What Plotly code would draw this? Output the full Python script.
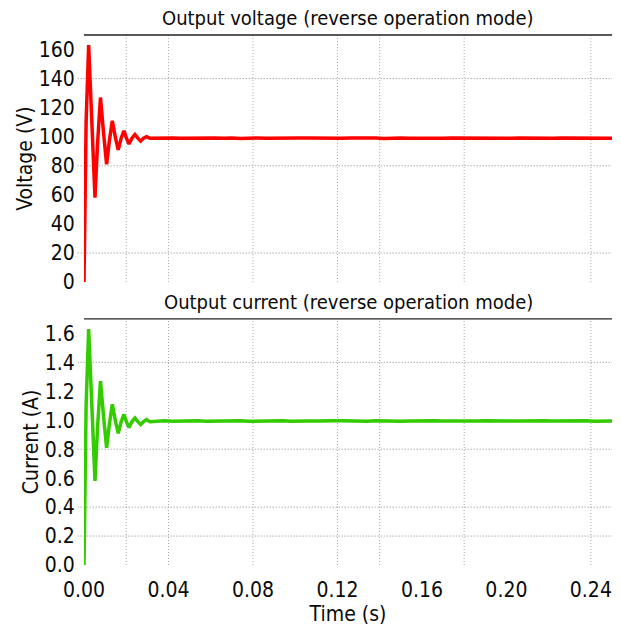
import plotly.graph_objects as go

# ---------------- data ----------------
t_osc = [0.0000, 0.0010, 0.0022, 0.0037, 0.0052, 0.0064, 0.0078, 0.0093, 0.0107, 0.0120,
         0.0134, 0.0148, 0.0162, 0.0176, 0.0189, 0.0201, 0.0213, 0.0227, 0.0241, 0.0255,
         0.0268, 0.0282, 0.0296, 0.0312]
v_osc = [0, 110, 163, 105, 58, 95, 127, 102, 81, 97,
         111, 100, 91, 99, 104, 99, 95, 99, 101.5, 99,
         97, 99, 100, 99]
i_osc = [0.0, 1.10, 1.63, 1.05, 0.58, 0.95, 1.27, 1.02, 0.81, 0.97,
         1.11, 1.00, 0.91, 0.99, 1.04, 0.99, 0.95, 0.99, 1.015, 0.99,
         0.97, 0.99, 1.005, 0.99]

t_ss = [0.034, 0.038, 0.042, 0.046, 0.050, 0.054, 0.058, 0.062, 0.066, 0.070,
        0.074, 0.078, 0.082, 0.086, 0.090, 0.094, 0.098, 0.102, 0.106, 0.110,
        0.114, 0.118, 0.122, 0.126, 0.130, 0.134, 0.138, 0.142, 0.146, 0.150,
        0.154, 0.158, 0.162, 0.166, 0.170, 0.174, 0.178, 0.182, 0.186, 0.190,
        0.194, 0.198, 0.202, 0.206, 0.210, 0.214, 0.218, 0.222, 0.226, 0.230,
        0.234, 0.238, 0.242, 0.246, 0.250]
v_ss = [99.1, 98.9, 99.2, 98.9, 99.1, 99.2, 98.9, 99.1, 99.0, 99.2,
        98.8, 99.1, 99.2, 98.9, 99.1, 99.0, 98.9, 99.2, 99.1, 98.9,
        99.2, 99.0, 98.9, 99.1, 99.2, 98.9, 99.1, 98.8, 99.1, 99.2,
        99.0, 98.9, 99.2, 99.1, 98.9, 99.1, 99.0, 99.2, 98.9, 99.1,
        99.2, 98.9, 99.0, 99.1, 98.9, 99.2, 99.1, 98.9, 99.1, 99.0,
        99.2, 98.9, 99.1, 99.1, 99.0]
i_ss = [0.994, 0.996, 0.993, 0.996, 0.994, 0.997, 0.993, 0.995, 0.996, 0.994,
        0.996, 0.993, 0.995, 0.997, 0.994, 0.996, 0.993, 0.996, 0.994, 0.995,
        0.993, 0.996, 0.997, 0.994, 0.995, 0.993, 0.996, 0.994, 0.996, 0.993,
        0.995, 0.997, 0.994, 0.996, 0.994, 0.993, 0.996, 0.995, 0.994, 0.996,
        0.997, 0.993, 0.995, 0.994, 0.996, 0.993, 0.996, 0.994, 0.995, 0.996,
        0.994, 0.996, 0.993, 0.995, 0.994]

time = t_osc + t_ss
voltage = v_osc + v_ss
current = i_osc + i_ss

x_ticks = [0.00, 0.04, 0.08, 0.12, 0.16, 0.20, 0.24]
x_tick_text = ["0.00", "0.04", "0.08", "0.12", "0.16", "0.20", "0.24"]
v_ticks = [0, 20, 40, 60, 80, 100, 120, 140, 160]
i_ticks = [0.0, 0.2, 0.4, 0.6, 0.8, 1.0, 1.2, 1.4, 1.6]
i_tick_text = ["0.0", "0.2", "0.4", "0.6", "0.8", "1.0", "1.2", "1.4", "1.6"]

x_grid = [0.02, 0.04, 0.08, 0.12, 0.14, 0.18, 0.24]
v_grid = [20, 80, 140]
i_grid = [0.2, 0.4, 0.8, 1.4]

title_v = "Output voltage (reverse operation mode)"
title_i = "Output current (reverse operation mode)"

# ---------------- figure ----------------
FONT = "DejaVu Sans Condensed, Liberation Sans, sans-serif"
TXT = "#0a0a0a"

fig = go.Figure()
fig.add_trace(go.Scatter(x=time, y=voltage, mode="lines",
                         line=dict(color="#ff0000", width=3.5), xaxis="x", yaxis="y",
                         showlegend=False))
fig.add_trace(go.Scatter(x=time, y=current, mode="lines",
                         line=dict(color="#33cc00", width=3.5), xaxis="x2", yaxis="y2",
                         showlegend=False))

shapes = []
for xr, yr in (("x", "y"), ("x2", "y2")):
    for gx in x_grid:
        shapes.append(dict(type="line", xref=xr, yref=yr + " domain", x0=gx, x1=gx, y0=0, y1=1,
                           line=dict(color="#a8a8a8", width=1, dash="1px,2px"), layer="below"))
    # top border
    shapes.append(dict(type="line", xref=xr + " domain", yref=yr + " domain", x0=0, x1=1, y0=1, y1=1,
                       line=dict(color="#222222", width=1.3)))
for gy in v_grid:
    shapes.append(dict(type="line", xref="x domain", yref="y", x0=-0.012, x1=1, y0=gy, y1=gy,
                       line=dict(color="#888888", width=1, dash="1px,2px"), layer="below"))
for gy in i_grid:
    shapes.append(dict(type="line", xref="x2 domain", yref="y2", x0=-0.012, x1=1, y0=gy, y1=gy,
                       line=dict(color="#888888", width=1, dash="1px,2px"), layer="below"))

annotations = [
    dict(text=title_v, xref="x domain", yref="y domain", x=0.5, y=1, yanchor="bottom",
         yshift=3, showarrow=False, font=dict(family=FONT, size=20, color=TXT)),
    dict(text=title_i, xref="x2 domain", yref="y2 domain", x=0.5, y=1, yanchor="bottom",
         yshift=3, showarrow=False, font=dict(family=FONT, size=20, color=TXT)),
]

axis_common = dict(showgrid=False, zeroline=False, showline=False,
                   ticks="outside", tickcolor="rgba(0,0,0,0)",
                   tickfont=dict(family=FONT, size=21, color=TXT))

fig.update_layout(
    width=621, height=628,
    margin=dict(l=84, r=9, t=35, b=61),
    paper_bgcolor="white", plot_bgcolor="white",
    font=dict(family=FONT, color=TXT),
    xaxis=dict(domain=[0, 1], range=[0, 0.25], anchor="y", tickvals=x_ticks,
               showticklabels=False, ticklen=8, **axis_common),
    yaxis=dict(domain=[0.5338, 1], range=[0, 170], anchor="x", tickvals=v_ticks, ticklen=4,
               title=dict(text="Voltage (V)", font=dict(family=FONT, size=21, color=TXT), standoff=0),
               **axis_common),
    xaxis2=dict(domain=[0, 1], range=[0, 0.25], anchor="y2", tickvals=x_ticks, ticktext=x_tick_text,
                ticklen=6,
                title=dict(text="Time (s)", font=dict(family=FONT, size=21, color=TXT), standoff=2),
                **axis_common),
    yaxis2=dict(domain=[0, 0.4643], range=[0, 1.7], anchor="x2", tickvals=i_ticks, ticktext=i_tick_text,
                ticklen=4,
                title=dict(text="Current (A)", font=dict(family=FONT, size=21, color=TXT), standoff=0),
                **axis_common),
    shapes=shapes,
    annotations=annotations,
)

fig.write_html("out.html", config={"displayModeBar": False},
               post_script="document.body.style.margin='0';document.body.style.overflow='hidden';")
